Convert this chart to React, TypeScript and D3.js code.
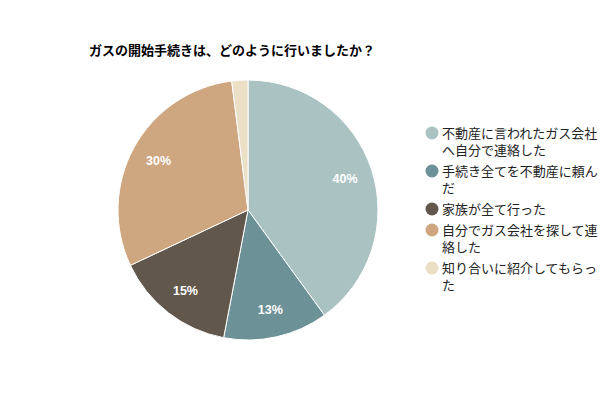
import React, { useRef, useEffect } from 'react';
import * as d3 from 'd3';

const title = 'ガスの開始手続きは、どのように行いましたか？';
const labels = [
    '不動産に言われたガス会社へ自分で連絡した',
    '手続き全てを不動産に頼んだ',
    '家族が全て行った',
    '自分でガス会社を探して連絡した',
    '知り合いに紹介してもらった',
];
const values = [40, 13, 15, 30, 2];
const colors = ['#aac2c2', '#6c9196', '#62574d', '#cea680', '#ebdfc6'];

const FONT = '"Noto Sans CJK JP", "Liberation Sans", Arial, sans-serif';
const NUM_FONT = '"Liberation Sans", Arial, sans-serif';

const App: React.FC = () => {
    const svgRef = useRef<SVGSVGElement | null>(null);

    useEffect(() => {
        const svg = d3.select(svgRef.current);
        svg.selectAll('*').remove();

        const width = 600;
        const height = 400;
        const cx = 248;
        const cy = 210;
        const radius = 130;

        svg.append('rect').attr('width', width).attr('height', height).attr('fill', '#ffffff');

        svg.append('text')
            .attr('x', 89)
            .attr('y', 55)
            .attr('font-family', FONT)
            .attr('font-size', 13)
            .attr('font-weight', 'bold')
            .attr('fill', '#000')
            .text(title);

        const data = labels.map((label, i) => ({ label, value: values[i], color: colors[i] }));
        const total = d3.sum(values);

        const pie = d3.pie<any>().value((d: any) => d.value).sort(null);
        const arc = d3.arc<any>().innerRadius(0).outerRadius(radius);
        const labelArc = d3.arc<any>().innerRadius(radius * 0.785).outerRadius(radius * 0.785);

        const g = svg.append('g').attr('transform', `translate(${cx}, ${cy})`);

        const arcs = g.selectAll('.arc')
            .data(pie(data))
            .enter()
            .append('g')
            .attr('class', 'arc');

        arcs.append('path')
            .attr('d', arc)
            .attr('fill', (d: any) => d.data.color)
            .attr('stroke', '#ffffff')
            .style('stroke-width', '1px');

        arcs.filter((d: any) => d.data.value / total >= 0.05)
            .append('text')
            .attr('transform', (d: any) => `translate(${labelArc.centroid(d)})`)
            .attr('text-anchor', 'middle')
            .attr('dy', '0.35em')
            .attr('font-family', NUM_FONT)
            .attr('font-size', 12.5)
            .attr('font-weight', 'bold')
            .attr('fill', '#ffffff')
            .text((d: any) => `${Math.round((d.data.value / total) * 100)}%`);

        // legend, wrapped at 12 characters per line
        const legend = svg.append('g').attr('transform', 'translate(432, 133)');
        const lineHeight = 17;
        let y = 0;
        data.forEach((d) => {
            const lines: string[] = [];
            for (let i = 0; i < d.label.length; i += 12) lines.push(d.label.slice(i, i + 12));
            legend.append('circle')
                .attr('cx', 0)
                .attr('cy', y)
                .attr('r', 6.5)
                .attr('fill', d.color);
            const t = legend.append('text')
                .attr('font-family', FONT)
                .attr('font-size', 13)
                .attr('fill', '#222');
            lines.forEach((line, j) => {
                t.append('tspan')
                    .attr('x', 10)
                    .attr('y', y + j * lineHeight)
                    .attr('dy', '0.35em')
                    .text(line);
            });
            y += lines.length * lineHeight + 4;
        });
    }, []);

    return (
        <div style={{ position: 'absolute', left: 0, top: 0, width: 600, height: 400 }}>
            <svg ref={svgRef} width={600} height={400}></svg>
        </div>
    );
};

export default App;
